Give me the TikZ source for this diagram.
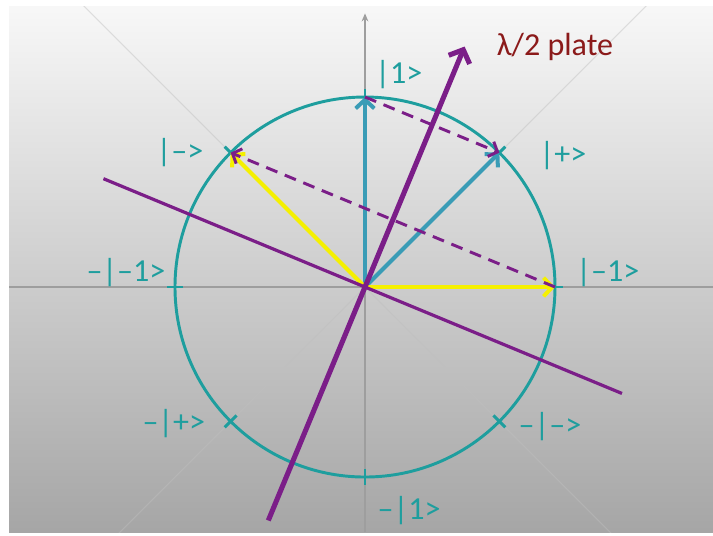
\documentclass[tikz,border=0pt]{standalone}
\usepackage{fontspec}
\setmainfont{Carlito}
\usepackage{xcolor}
\usepackage{tikz}
\usetikzlibrary{arrows.meta,positioning}

\definecolor{ringteal}{HTML}{1E9E9E}
\definecolor{vecteal}{HTML}{3A9CB6}
\definecolor{waveplate}{HTML}{7B1E88}
\definecolor{platered}{HTML}{8B1A1A}
\definecolor{vecyellow}{HTML}{F5F000}

\begin{document}
\begin{tikzpicture}[
  ket/.style={text=ringteal, font=\fontsize{24}{28}\selectfont, inner sep=1pt},
  ticmark/.style={ringteal, line width=2.2pt},
  tealvec/.style={vecteal, line width=3pt, -{Straight Barb[length=6.5pt,width=14pt]}},
  yellowvec/.style={vecyellow, line width=3pt, -{Straight Barb[length=6.5pt,width=14pt]}},
  swaparrow/.style={waveplate, line width=2.2pt, dash pattern=on 9pt off 6pt, -{Straight Barb[length=5.5pt,width=12pt]}}
]
  \useasboundingbox (-9.605,-6.526) rectangle (9.158,7.553);

  % shaded slide background
  \shade[top color=white!97!black, bottom color=white!65!black] (-9.368,-6.447) rectangle (9.158,7.369);

  % faint diagonals
  \begin{scope}
    \clip (-9.368,-6.447) rectangle (9.158,7.369);
    \draw[white!75!black, line width=0.8pt, opacity=0.45] (135:10.5) -- (-45:10.5);
    \draw[white!75!black, line width=0.8pt, opacity=0.45] (45:10.5) -- (-135:10.5);
  \end{scope}

  % axes
  \draw[white!62!black, line width=1.1pt] (-9.368,0) -- (9.158,0);
  \draw[white!62!black, line width=1.1pt, -{Stealth[length=6pt,width=5pt]}] (0,-6.447) -- (0,7.2);

  % unit circle and ticks
  \coordinate (O) at (0,0);
  \coordinate (k1) at (90:5);
  \coordinate (kp) at (45:5);
  \coordinate (km) at (135:5);
  \coordinate (km1) at (0:5);
  \draw[ringteal, line width=2.2pt] (O) circle (5);
  \foreach \a in {0,45,...,315}
    \draw[ticmark] (\a:4.78) -- (\a:5.22);

  % state labels
  \node[ket] (l1) at (0.89,5.58) {|1>};
  \node[ket] (lp) at (5.21,3.47) {|+>};
  \node[ket] (lm) at (-4.87,3.55) {|–>};
  \node[ket] (lm1) at (6.39,0.39) {|–1>};
  \node[ket] (nm1) at (-6.29,0.39) {–|–1>};
  \node[ket] (np) at (-5.03,-3.58) {–|+>};
  \node[ket] (nm) at (4.87,-3.68) {–|–>};
  \node[ket] (n1) at (1.16,-5.87) {–|1>};

  % input and output vectors
  \draw[tealvec] (O) -- (k1);
  \draw[tealvec] (O) -- (kp);
  \draw[yellowvec] (O) -- (km);
  \draw[yellowvec] (O) -- (km1);

  % reflection
  \draw[swaparrow] (k1) -- (kp);
  \draw[swaparrow] (km1) -- (km);

  % lambda/2 plate axes
  \coordinate (ptip) at (67.5:6.85);
  \coordinate (pend) at (247.5:6.65);
  \draw[waveplate, line width=3.8pt, -{Straight Barb[length=8pt,width=17pt]}] (pend) -- (ptip);
  \draw[waveplate, line width=2.4pt] (157.5:7.45) -- (-22.5:7.32);
  \node[text=platered, font=\fontsize{24}{28}\selectfont, inner sep=1pt] (plt) at (5.0,6.32) {λ/2 plate};
\end{tikzpicture}
\end{document}
